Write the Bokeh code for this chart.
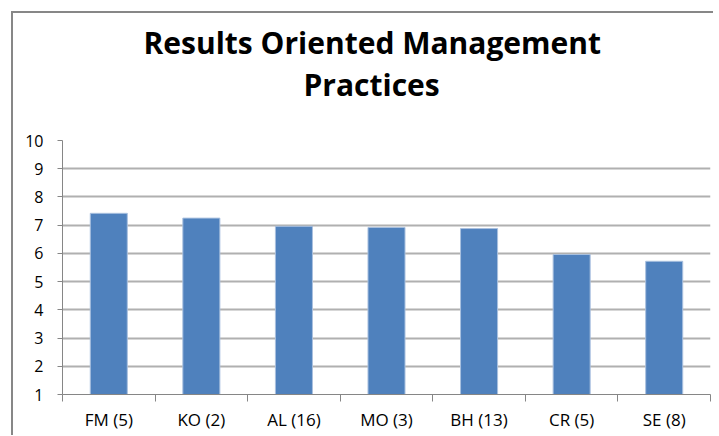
from bokeh.plotting import figure
from bokeh.models import FixedTicker, Range1d, ColumnDataSource, Title
from bokeh.layouts import column
from bokeh.embed import file_html
from bokeh.resources import INLINE

categories = ["FM (5)", "KO (2)", "AL (16)", "MO (3)", "BH (13)", "CR (5)", "SE (8)"]
scores = [7.42, 7.25, 6.96, 6.92, 6.88, 5.96, 5.72]
y_ticks = [1, 2, 3, 4, 5, 6, 7, 8, 9, 10]
title_lines = ["Results Oriented Management", "Practices"]

n = len(categories)
centers = [i + 0.5 for i in range(n)]
boundaries = list(range(n + 1))

source = ColumnDataSource(dict(x=centers, top=scores, cat=categories))

p = figure(width=700, height=422, title=None,
           x_range=Range1d(0, n), y_range=Range1d(y_ticks[0], y_ticks[-1]),
           output_backend="svg", toolbar_location=None,
           min_border_left=49, min_border_right=3, min_border_top=127, min_border_bottom=41)

p.vbar(x="x", top="top", bottom=y_ticks[0], width=0.4, source=source,
       fill_color="#4f81bd", line_color="#a9c0df", line_width=1)

# title: two lines, each centred on the chart area
t2 = Title(text=title_lines[1], align="left", offset=241, standoff=72,
           text_font="Open Sans", text_font_style="bold", text_font_size="30px",
           text_color="#000000")
t1 = Title(text=title_lines[0], align="left", offset=81, standoff=-74,
           text_font="Open Sans", text_font_style="bold", text_font_size="30px",
           text_color="#000000")
p.add_layout(t2, "above")
p.add_layout(t1, "above")

p.outline_line_color = None
p.background_fill_color = "white"
p.border_fill_color = "white"

# y axis
p.yaxis.ticker = FixedTicker(ticks=y_ticks)
p.yaxis.axis_line_color = "#868686"
p.yaxis.axis_line_width = 1
p.yaxis.major_tick_line_color = "#868686"
p.yaxis.major_tick_out = 5
p.yaxis.major_tick_in = 0
p.yaxis.minor_tick_line_color = None
p.yaxis.major_label_text_font = "Open Sans"
p.yaxis.major_label_text_font_size = "16px"
p.yaxis.major_label_text_color = "#000000"
p.yaxis.major_label_standoff = 14

# x axis: labels at category centres, tick marks at category boundaries
p.xaxis.ticker = FixedTicker(ticks=centers, minor_ticks=boundaries)
p.xaxis.major_label_overrides = {c: lab for c, lab in zip(centers, categories)}
p.xaxis.axis_line_color = "#868686"
p.xaxis.major_tick_line_color = None
p.xaxis.major_tick_out = 0
p.xaxis.major_tick_in = 0
p.xaxis.minor_tick_line_color = "#868686"
p.xaxis.minor_tick_out = 7
p.xaxis.minor_tick_in = 0
p.xaxis.major_label_text_font = "Open Sans"
p.xaxis.major_label_text_font_size = "17px"
p.xaxis.major_label_text_color = "#000000"
p.xaxis.major_label_standoff = 6

p.xgrid.grid_line_color = None
p.ygrid.ticker = FixedTicker(ticks=y_ticks[1:])
p.ygrid.grid_line_color = "#b0b0b0"
p.ygrid.grid_line_width = 2

layout = column(p, margin=(11, 0, 0, 11),
                styles={"border-top": "2px solid #878787", "border-left": "2px solid #878787"})

open("out.html", "w").write(file_html(layout, INLINE))
